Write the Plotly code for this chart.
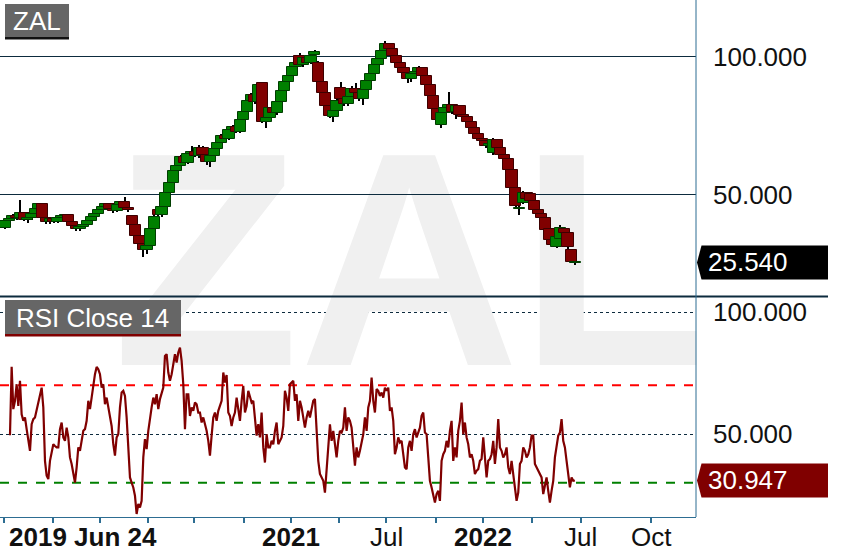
import plotly.graph_objects as go

# ZAL weekly candles from 2019 Jun 24
opens = [38.0, 40.5, 41.2, 42.5, 41.5, 43.6, 41.0, 41.6, 43.2, 45.0,
         46.6, 41.5, 40.2, 41.2, 40.3, 41.6, 42.4, 42.6, 40.2, 38.6,
         37.6, 38.4, 39.3, 40.6, 41.9, 43.2, 44.5, 45.8, 46.6, 45.0,
         44.2, 46.4, 47.4, 45.2, 42.4, 39.2, 35.0, 32.4, 30.0, 31.4,
         37.6, 44.5, 42.8, 45.8, 50.8, 54.2, 58.6, 60.4, 63.8, 61.6,
         64.8, 65.6, 64.0, 67.2, 64.6, 62.0, 64.0, 66.6, 68.8, 71.4,
         70.2, 73.6, 74.8, 73.0, 77.2, 80.2, 84.2, 86.4, 83.6, 90.6,
         76.6, 78.0, 81.4, 79.6, 83.8, 87.6, 91.0, 93.0, 96.2, 100.4,
         97.2, 99.6, 98.0, 100.6, 97.8, 90.8, 87.0, 82.4, 78.2, 80.6,
         88.6, 84.8, 83.0, 85.4, 88.4, 87.0, 84.6, 88.2, 91.2, 93.8,
         97.0, 99.2, 102.2, 104.6, 102.8, 100.2, 98.0, 96.0, 94.2, 92.2,
         93.8, 94.6, 96.0, 93.0, 89.8, 86.0, 81.0, 75.2, 79.6, 81.4,
         82.6, 80.0, 82.2, 79.0, 78.2, 76.4, 74.4, 72.2, 70.2, 69.4,
         67.8, 65.2, 69.8, 67.0, 64.4, 63.0, 59.0, 52.6, 44.8, 47.0,
         50.8, 50.4, 47.8, 44.4, 43.0, 41.8, 37.6, 33.8, 31.2, 34.0,
         37.8, 36.4, 30.2, 25.3]
highs = [41.0, 42.0, 43.0, 43.0, 48.2, 44.0, 42.2, 44.0, 45.5, 47.2,
         46.8, 42.5, 41.8, 41.6, 42.0, 43.0, 43.0, 42.8, 40.8, 39.5,
         38.8, 39.6, 41.0, 42.2, 43.5, 44.8, 46.2, 47.0, 47.0, 45.6,
         46.8, 48.0, 49.3, 46.0, 42.8, 39.6, 35.6, 33.0, 33.2, 38.2,
         42.6, 45.0, 46.4, 51.2, 54.6, 59.0, 61.0, 64.4, 64.2, 65.4,
         67.6, 66.4, 68.2, 67.6, 65.0, 64.6, 67.0, 69.4, 72.0, 72.6,
         74.2, 75.4, 75.2, 77.6, 80.6, 84.8, 87.0, 87.2, 90.2, 91.0,
         78.4, 82.0, 82.0, 84.4, 88.2, 91.6, 93.6, 96.8, 98.6, 101.4,
         100.2, 100.2, 101.0, 102.4, 98.6, 91.4, 87.6, 83.0, 81.2, 84.6,
         90.8, 86.6, 86.0, 89.6, 90.4, 88.0, 88.8, 91.8, 94.4, 97.6,
         99.8, 102.8, 105.9, 105.0, 103.4, 100.8, 99.0, 96.6, 95.0, 94.6,
         95.2, 96.6, 96.4, 93.6, 90.4, 86.6, 81.6, 80.0, 82.0, 87.4,
         83.0, 82.8, 82.6, 79.8, 78.8, 77.2, 75.0, 73.0, 71.4, 70.0,
         69.0, 70.8, 70.2, 67.4, 64.8, 63.4, 59.4, 53.0, 46.2, 51.4,
         51.2, 51.0, 48.2, 44.8, 43.6, 42.0, 38.2, 34.4, 35.4, 39.0,
         38.2, 36.8, 30.6, 26.2]
lows = [37.5, 39.8, 40.6, 40.8, 41.0, 40.5, 40.0, 41.0, 42.6, 44.5,
        41.0, 39.4, 39.6, 39.8, 40.0, 41.2, 41.4, 39.8, 38.0, 37.0,
        37.0, 38.0, 39.0, 40.2, 41.5, 42.8, 44.0, 45.2, 44.6, 43.6,
        43.8, 46.0, 44.8, 44.0, 38.8, 34.6, 31.8, 27.5, 28.5, 30.8,
        37.0, 42.2, 42.2, 45.4, 50.2, 53.8, 58.0, 60.0, 61.0, 61.2,
        63.0, 63.6, 63.4, 64.0, 61.0, 60.0, 63.4, 66.0, 68.2, 69.8,
        69.8, 72.8, 72.4, 72.6, 76.8, 79.8, 83.6, 83.0, 83.0, 76.0,
        74.4, 77.4, 79.0, 79.0, 83.0, 86.2, 90.0, 92.4, 95.6, 96.6,
        96.4, 97.4, 97.6, 100.0, 90.4, 86.4, 81.8, 78.0, 76.6, 80.0,
        84.2, 82.2, 82.4, 85.0, 86.4, 84.0, 82.6, 87.6, 90.6, 93.2,
        96.4, 98.6, 101.6, 102.0, 99.6, 97.4, 95.2, 93.6, 90.4, 91.0,
        92.8, 94.0, 92.6, 89.4, 85.6, 80.6, 76.4, 74.4, 78.8, 80.6,
        79.4, 77.6, 78.4, 77.0, 75.6, 73.8, 71.6, 69.6, 68.4, 67.2,
        66.4, 64.6, 66.4, 63.8, 62.0, 58.6, 52.0, 45.4, 42.8, 46.6,
        47.8, 47.2, 43.8, 42.4, 41.2, 36.6, 33.2, 31.4, 30.8, 33.6,
        35.6, 30.6, 25.4, 24.8]
closes = [40.5, 41.2, 42.3, 41.5, 43.6, 41.0, 41.6, 43.2, 45.0, 46.6,
          41.5, 40.2, 41.2, 40.3, 41.6, 42.4, 42.6, 40.2, 38.6, 37.6,
          38.4, 39.3, 40.6, 41.9, 43.2, 44.5, 45.8, 46.6, 45.0, 44.2,
          46.4, 47.4, 45.2, 44.6, 39.2, 35.0, 32.4, 30.0, 31.4, 37.6,
          42.0, 42.8, 45.8, 50.8, 54.2, 58.6, 60.4, 63.8, 61.6, 64.8,
          65.6, 64.0, 67.2, 64.6, 62.0, 64.0, 66.6, 68.8, 71.4, 70.2,
          73.6, 74.8, 73.0, 77.2, 80.2, 84.2, 86.4, 83.6, 89.8, 76.6,
          78.0, 81.4, 79.6, 83.8, 87.6, 91.0, 93.0, 96.2, 98.0, 97.2,
          99.6, 98.0, 100.4, 101.8, 90.8, 87.0, 82.4, 78.6, 80.6, 84.0,
          84.8, 83.0, 85.4, 88.4, 87.0, 84.6, 88.2, 91.2, 93.8, 97.0,
          99.2, 102.2, 104.6, 102.8, 100.2, 98.0, 96.0, 94.2, 92.2, 93.8,
          94.6, 96.0, 93.0, 89.8, 86.0, 81.0, 77.0, 79.6, 81.4, 82.6,
          80.0, 82.2, 79.0, 78.2, 76.4, 74.4, 72.2, 70.2, 69.4, 67.8,
          68.4, 69.8, 67.0, 64.4, 63.0, 59.0, 52.6, 46.0, 45.4, 50.8,
          48.6, 47.8, 44.4, 43.0, 41.8, 37.2, 33.8, 32.0, 34.8, 38.0,
          36.4, 31.0, 25.8, 25.54]

# RSI Close 14, read every ~2.24 sessions
rsi = [49.5, 77.5, 60.2, 63.6, 70.4, 61.5, 71.8, 58.1, 55.4, 56.8,
       52.0, 47.2, 43.1, 54.0, 56.1, 56.8, 60.2, 63.6, 67.0, 69.0,
       60.9, 39.0, 32.9, 31.5, 39.0, 43.1, 45.8, 45.1, 44.5, 44.5,
       52.0, 54.7, 48.6, 47.2, 52.6, 48.6, 40.4, 37.7, 33.6, 30.1,
       36.3, 44.5, 43.1, 47.2, 51.3, 52.0, 55.4, 63.6, 60.2, 64.9,
       70.4, 74.5, 77.5, 76.5, 74.5, 69.0, 70.4, 62.2, 64.9, 61.5,
       56.8, 53.3, 45.8, 41.1, 48.6, 49.9, 60.9, 67.0, 67.7, 65.6,
       56.8, 43.1, 32.2, 30.1, 28.1, 24.7, 17.2, 21.3, 19.9, 22.6,
       40.4, 47.9, 43.8, 51.3, 56.8, 60.9, 64.9, 62.2, 66.3, 60.2,
       64.3, 66.3, 69.0, 82.0, 82.7, 75.2, 71.8, 74.5, 78.6, 82.7,
       79.3, 83.4, 85.4, 80.0, 70.4, 52.0, 66.3, 66.3, 57.4, 60.9,
       59.5, 62.9, 62.2,
       58.8, 58.8, 54.7, 56.8, 54.0, 51.3, 47.2, 41.1, 49.3, 56.8,
       58.8, 55.4, 59.5, 61.5, 63.6, 75.2, 71.1, 74.2, 58.8, 57.4,
       53.3, 56.8, 58.8, 64.9, 58.8, 55.4, 63.6, 69.7, 58.8, 61.5,
       67.7, 64.9, 62.9, 63.6, 56.8, 49.3, 54.0, 48.6, 58.8, 44.5,
       38.3, 49.9, 44.5, 44.5, 47.2, 45.8, 51.3, 54.7, 45.8, 47.2,
       48.6, 53.3, 67.7, 64.9, 59.5, 70.4, 71.1, 71.8, 63.6, 66.3,
       55.4, 63.6, 60.9, 57.4, 52.6, 56.8, 59.5, 56.8, 60.9, 63.6,
       64.3, 49.9, 39.0, 33.6, 32.2, 30.8, 26.0, 34.9, 44.5, 54.0,
       47.2, 51.3, 45.8, 40.4, 47.2, 51.3, 50.6, 52.6, 60.9, 51.3,
       56.8, 55.4, 52.6, 44.5, 37.0, 44.5, 40.4, 43.1, 47.2, 49.9,
       56.8, 51.3, 60.9, 63.6, 73.1, 63.6, 58.8, 68.4, 67.7, 65.6,
       67.0, 64.9, 69.0, 67.7, 69.0,
       59.5, 60.9, 55.4, 41.7, 44.5, 48.6, 46.5, 47.2, 40.4, 36.3,
       35.6, 44.5, 47.2, 43.1, 49.9, 52.0, 48.6, 50.6, 52.6, 57.4,
       58.8, 50.6, 49.9, 40.4, 30.8, 28.1, 24.7, 21.9, 25.4, 26.7,
       22.6, 39.0, 41.7, 43.1, 47.2, 44.5, 51.3, 55.4, 39.0, 44.5,
       40.4, 51.3, 55.4, 62.9, 49.9, 54.7, 48.6, 45.8, 40.4, 41.7,
       39.0, 33.6, 34.9, 35.6, 39.0, 39.7, 48.6, 40.4, 32.2, 39.0,
       39.7, 41.7, 47.2, 37.7, 44.5, 56.1, 44.5, 43.1, 40.4, 41.7,
       44.5, 36.3, 33.6, 39.0, 33.6, 28.1, 22.6, 26.0, 37.7, 39.0,
       44.5, 43.1, 40.4, 41.7, 44.5, 49.3, 49.3, 37.7, 36.3, 34.9,
       33.6, 32.2, 25.4, 29.5, 32.2, 26.7, 21.9, 26.7, 30.8, 40.4,
       44.5, 49.3, 50.6, 56.1, 47.2, 44.5, 39.0, 32.2, 28.1, 32.2,
       30.8, 30.947]
rsi_first = 8
rsi_every = 2.237

# x axis is counted in trading sessions from 2019 Jun 24
tick_sessions = [0, 65.8, 128.9, 193.3, 255, 322, 385, 449.7, 512.8,
                 579.9, 643, 708.7, 774.5, 868.5]
tick_labels = ["2019 Jun 24", "", "", "", "", "", "2021", "", "Jul", "",
               "2022", "", "Jul", "Oct"]
bold_labels = ["2019 Jun 24", "2021", "2022"]

FONT = "Liberation Sans"
TEAL = "#2d6d92"
NAVY = "#0d2b3e"

# plot area is 696 x 517 px, top left of the page
PW, PH = 696.0, 517.0
price_dom = [1 - 296 / PH, 1.0]
rsi_dom = [0.0, 1 - 297 / PH]
price_rng = [13.4, 120.65]
rsi_rng = [15.98, 106.15]
x_rng = [-5.4, 928.9]


def px(x):
    return x / PW


def py(y):
    return 1 - y / PH


def val2paper(v, rng, dom):
    return dom[0] + (v - rng[0]) / (rng[1] - rng[0]) * (dom[1] - dom[0])


sessions = [5 * k + 2 for k in range(len(closes))]
rsi_x = [rsi_first + i * rsi_every for i in range(len(rsi))]

up = [c >= o for o, c in zip(opens, closes)]
body_base = [min(o, c) for o, c in zip(opens, closes)]
body_h = [max(abs(c - o), 0.25) for o, c in zip(opens, closes)]
fill = ["#008000" if u else "#800000" for u in up]
edge = ["#003d00" if u else "#3d0000" for u in up]

fig = go.Figure()

# big watermark: first trace of the lower subplot so it sits under everything,
# anchored inside the RSI range and pushed up with textposition
fig.add_trace(go.Scatter(
    x=[544], y=[47.0], mode="text", text=["<b>ZAL</b>"],
    textposition="top center",
    textfont=dict(family=FONT, size=305, color="#f0f0f0"),
    cliponaxis=False, hoverinfo="skip", xaxis="x", yaxis="y"))

fig.add_trace(go.Scatter(
    x=rsi_x, y=rsi, mode="lines", line=dict(color="#800000", width=2.2),
    xaxis="x", yaxis="y"))

# wicks then bodies
fig.add_trace(go.Bar(
    x=sessions, base=lows, y=[h - l for h, l in zip(highs, lows)],
    width=1.5, marker=dict(color="black", line=dict(width=0)),
    xaxis="x", yaxis="y2"))
fig.add_trace(go.Bar(
    x=sessions, base=body_base, y=body_h, width=15,
    marker=dict(color=fill, line=dict(color=edge, width=1)),
    xaxis="x", yaxis="y2"))

shapes = [
    dict(type="line", xref="x domain", x0=0, x1=1, yref="y", y0=70, y1=70,
         line=dict(color="#ff0000", width=2, dash="dash"), layer="below"),
    dict(type="line", xref="x domain", x0=0, x1=1, yref="y", y0=30, y1=30,
         line=dict(color="#008000", width=2, dash="dash"), layer="below"),
    # panel separator and right border
    dict(type="line", xref="paper", yref="paper", x0=0, x1=px(828),
         y0=py(296.5), y1=py(296.5), line=dict(color=NAVY, width=2)),
    dict(type="line", xref="paper", yref="paper", x0=1, x1=1, y0=0, y1=1,
         line=dict(color=TEAL, width=1)),
    # title boxes
    dict(type="rect", xref="paper", yref="paper", x0=px(5), x1=px(69),
         y0=py(37), y1=py(4), fillcolor="#666666", line=dict(width=0)),
    dict(type="rect", xref="paper", yref="paper", x0=px(5), x1=px(69),
         y0=py(39.5), y1=py(37), fillcolor="#111111", line=dict(width=0)),
    dict(type="rect", xref="paper", yref="paper", x0=px(5), x1=px(181),
         y0=py(334), y1=py(300), fillcolor="#666666", line=dict(width=0)),
    dict(type="rect", xref="paper", yref="paper", x0=px(5), x1=px(181),
         y0=py(336.5), y1=py(334), fillcolor="#800000", line=dict(width=0)),
]

annotations = [
    dict(xref="paper", yref="paper", x=px(37), y=py(21), text="ZAL",
         xanchor="center", yanchor="middle", showarrow=False,
         font=dict(family=FONT, size=26, color="white")),
    dict(xref="paper", yref="paper", x=px(93), y=py(317.5), text="RSI Close 14",
         xanchor="center", yanchor="middle", showarrow=False,
         font=dict(family=FONT, size=26, color="white")),
]

# date labels under the ticks (the first one starts at its tick)
for i, (s, lab) in enumerate(zip(tick_sessions, tick_labels)):
    if not lab:
        continue
    txt = "<b>%s</b>" % lab if lab in bold_labels else lab
    annotations.append(dict(
        xref="x", yref="paper", x=s, y=py(536.5), text=txt,
        xanchor="left" if i == 0 else "center", xshift=3 if i == 0 else 0,
        yanchor="middle", showarrow=False,
        font=dict(family=FONT, size=26, color="#111111")))

# last value flags on the right
for v, rng, dom, col in [(closes[-1], price_rng, price_dom, "#000000"),
                         (rsi[-1], rsi_rng, rsi_dom, "#800000")]:
    yp = val2paper(v, rng, dom)
    hh = 17 / PH
    x_tip, x_b, x_r = px(697), px(701.5), px(828)
    path = "M %f %f L %f %f L %f %f L %f %f L %f %f Z" % (
        x_tip, yp, x_b, yp + hh, x_r, yp + hh, x_r, yp - hh, x_b, yp - hh)
    shapes.append(dict(type="path", xref="paper", yref="paper", path=path,
                       fillcolor=col, line=dict(width=0)))
    annotations.append(dict(xref="paper", yref="paper", x=px(706), y=yp,
                            text="%.3f" % v, xanchor="left", yanchor="middle",
                            showarrow=False,
                            font=dict(family=FONT, size=26, color="white")))

fig.update_layout(
    width=848, height=560, autosize=False,
    margin=dict(l=0, r=152, t=0, b=43, pad=0),
    paper_bgcolor="white", plot_bgcolor="white",
    showlegend=False, barmode="overlay", bargap=0,
    font=dict(family=FONT, size=26, color="#111111"),
    shapes=shapes, annotations=annotations,
    xaxis=dict(domain=[0, 1], anchor="y", range=x_rng,
               tickvals=tick_sessions, showticklabels=False,
               ticks="outside", ticklen=5, tickwidth=2, tickcolor=TEAL,
               showline=True, linecolor=TEAL, linewidth=1,
               showgrid=False, zeroline=False),
    yaxis=dict(domain=rsi_dom, anchor="x", range=rsi_rng, side="right",
               tickvals=[50, 100], ticktext=["50.000", "100.000"],
               showgrid=True, gridcolor=NAVY, gridwidth=1, griddash="dot",
               zeroline=False, ticks="", ticklabelstandoff=16,
               tickfont=dict(family=FONT, size=26, color="#111111")),
    yaxis2=dict(domain=price_dom, anchor="x", range=price_rng, side="right",
                tickvals=[50, 100], ticktext=["50.000", "100.000"],
                showgrid=True, gridcolor=NAVY, gridwidth=1,
                zeroline=False, ticks="", ticklabelstandoff=16,
                tickfont=dict(family=FONT, size=26, color="#111111")),
)

fig.write_html("out.html", config={"displayModeBar": False},
               post_script="document.body.style.margin = '0px';")
